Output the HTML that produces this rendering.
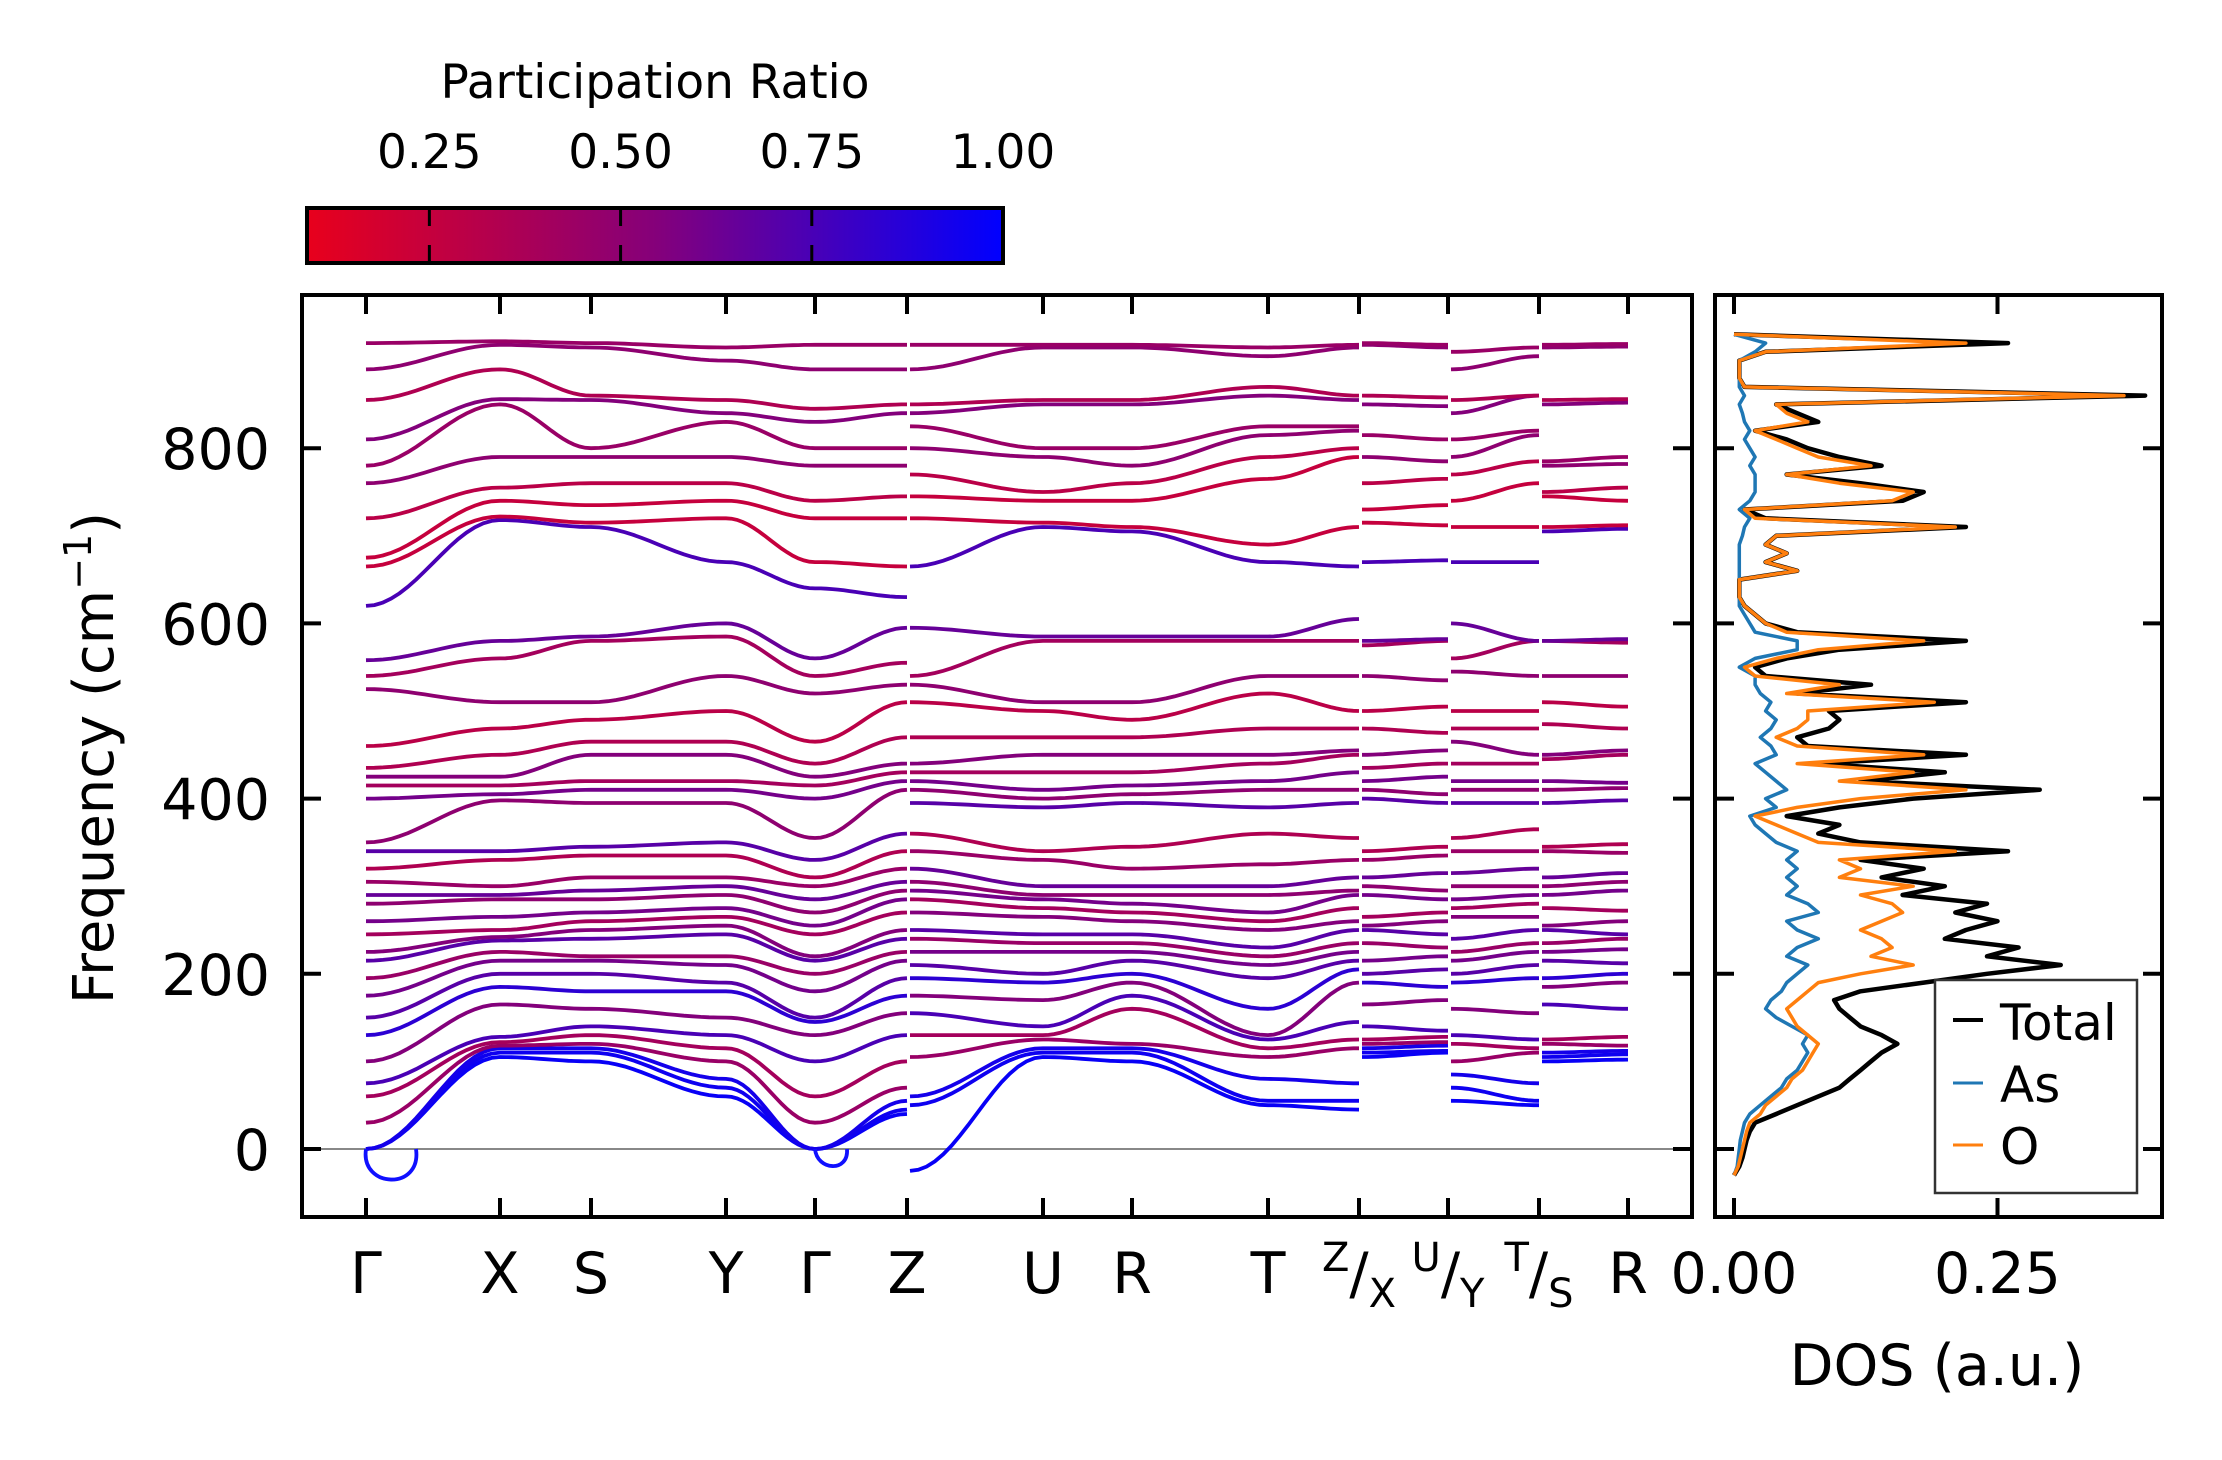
<!DOCTYPE html>
<html><head><meta charset="utf-8"><style>
body{margin:0;background:#fff}
svg text{font-family:"DejaVu Sans","Liberation Sans",sans-serif;fill:#000}
</style></head><body>
<svg id="fig" width="2222" height="1455" viewBox="0 0 2222 1455" xmlns="http://www.w3.org/2000/svg">
<defs>
<linearGradient id="cmap" x1="0" x2="1" y1="0" y2="0">
<stop offset="0" stop-color="#e8001c"/><stop offset="0.5" stop-color="#85007a"/><stop offset="1" stop-color="#0000ff"/>
</linearGradient>
<clipPath id="clipMain"><rect x="302" y="295" width="1390" height="922"/></clipPath>
<clipPath id="clipDos"><rect x="1715" y="295" width="447" height="922"/></clipPath>
</defs>
<rect width="2222" height="1455" fill="#fff"/>
<g id="colorbar">
<text x="655" y="98" font-size="47" text-anchor="middle">Participation Ratio</text>
<rect x="307" y="208" width="696" height="55" fill="url(#cmap)" stroke="#000" stroke-width="4"/>
</g>
<g id="main">
<line x1="302" x2="1692" y1="1149" y2="1149" stroke="#888" stroke-width="2"/>
<g id="bands" clip-path="url(#clipMain)"></g>
<rect x="302" y="295" width="1390" height="922" fill="none" stroke="#000" stroke-width="4"/>
<g id="mainTicks"></g>
<text transform="translate(113,758) rotate(-90)" font-size="56" text-anchor="middle">Frequency (cm<tspan dy="-22" font-size="38">−1</tspan><tspan dy="22">)</tspan></text>
</g>
<g id="dos">
<g id="dosLines" clip-path="url(#clipDos)"></g>
<rect x="1715" y="295" width="447" height="922" fill="none" stroke="#000" stroke-width="4"/>
<g id="dosTicks"></g>
<text x="1937" y="1385" font-size="57" text-anchor="middle">DOS (a.u.)</text>
<g>
<rect x="1935" y="980" width="202" height="213" fill="#fff" stroke="#333" stroke-width="2.5"/>
<line x1="1953" x2="1983" y1="1020" y2="1020" stroke="#000" stroke-width="4"/>
<text x="2000" y="1040" font-size="50">Total</text>
<line x1="1953" x2="1983" y1="1083" y2="1083" stroke="#1f77b4" stroke-width="3"/>
<text x="2000" y="1102" font-size="50">As</text>
<line x1="1953" x2="1983" y1="1145" y2="1145" stroke="#ff7f0e" stroke-width="3"/>
<text x="2000" y="1164" font-size="50">O</text>
</g>
</g>
</svg>
<script>
// ---- data ----
const kLabels = ["Γ","X","S","Y","Γ","Z","U","R","T","Z|X","U|Y","T|S","R"];
const yTicks = [0,200,400,600,800];
const cbTicks = [0.25,0.50,0.75,1.00];
const cbTickLabels = ["0.25","0.50","0.75","1.00"];
const dosTicks = [0,0.25];
const dosTickLabels = ["0.00","0.25"];
const seg1 = [
 [0,0,0,30,60,75,100,130,150,175,195,215,225,245,260,280,290,305,320,340,350,400,415,425,435,460,525,540,558,620,665,675,720,760,780,810,855,890,920],
 [105,110,115,118,122,128,165,185,200,215,225,238,242,250,265,285,290,300,330,340,398,405,415,425,450,480,510,560,580,718,722,740,755,790,850,856,890,918,922],
 [100,110,115,120,130,140,160,180,200,215,220,240,250,260,270,285,295,310,335,345,395,410,420,450,465,490,510,580,585,710,715,735,760,790,800,855,860,915,920],
 [60,70,80,100,115,130,150,180,190,210,220,245,255,265,275,290,300,310,335,350,395,410,420,450,465,500,540,585,600,670,720,740,760,790,830,840,855,900,915],
 [0,0,0,30,60,100,130,145,150,180,200,215,220,245,255,270,285,300,310,330,355,400,415,425,440,465,520,540,560,640,670,720,740,780,800,830,845,890,918],
 [40,45,55,70,100,130,155,175,195,215,225,240,250,270,285,295,305,320,340,360,410,420,430,440,470,510,530,555,595,630,665,720,745,780,800,840,850,890,918]];
const seg2 = [
 [-25,50,60,105,130,155,175,195,210,225,240,250,270,285,295,305,320,340,360,395,410,420,430,440,470,510,530,540,595,665,720,745,770,800,825,840,850,890,918],
 [105,110,115,125,130,140,170,190,200,225,235,245,265,275,285,290,300,330,340,390,400,410,430,450,470,500,510,580,585,710,715,740,750,790,800,850,855,915,918],
 [100,110,115,120,160,175,190,200,215,225,235,245,260,270,280,290,300,320,345,395,405,415,430,450,470,490,510,580,585,705,710,740,760,780,800,850,855,915,918],
 [50,55,80,105,115,125,130,160,195,210,220,230,250,260,270,290,300,325,360,390,410,420,440,450,480,520,540,580,585,670,690,765,790,815,825,860,870,905,915],
 [45,55,75,115,125,145,190,205,215,225,235,250,260,275,290,295,310,330,355,395,410,430,450,455,480,500,540,580,605,665,710,790,800,820,825,855,860,915,918]];
const seg3 = [
 [105,110,115,120,125,140,165,190,200,215,235,250,255,265,290,300,310,330,340,400,410,420,435,450,480,500,540,575,580,670,715,730,760,790,815,850,860,918,920],
 [110,112,118,122,128,135,170,185,205,220,230,245,260,270,285,295,315,335,345,395,405,425,440,455,475,505,535,580,582,672,712,735,765,785,810,848,858,915,918]];
const seg4 = [
 [55,70,85,100,120,130,160,190,200,215,225,240,265,275,285,300,315,340,355,395,410,420,440,465,480,500,545,560,600,670,710,740,770,790,810,840,855,890,910],
 [50,55,75,110,115,125,155,195,210,225,235,250,265,280,290,300,320,340,365,395,410,420,440,450,480,500,540,580,580,670,710,760,785,815,820,860,860,905,915]];
const seg5 = [
 [100,105,110,120,125,165,185,195,215,225,235,250,255,275,290,300,310,340,345,395,410,420,445,450,485,510,540,580,580,705,710,745,750,780,785,850,855,915,918],
 [102,108,112,118,128,160,190,200,212,228,240,245,260,272,295,305,315,338,348,398,412,418,450,455,480,505,540,578,582,708,712,740,755,782,790,852,856,916,919]];
const segStart = [0,5,9,10,11];
const prValues = [0.97,0.95,0.93,0.45,0.4,0.75,0.55,0.85,0.7,0.6,0.45,0.7,0.55,0.4,0.6,0.5,0.65,0.45,0.35,0.7,0.5,0.6,0.4,0.55,0.35,0.3,0.5,0.4,0.65,0.75,0.25,0.25,0.3,0.5,0.45,0.55,0.35,0.5,0.45];
const dosFreqStart = -30, dosFreqStep = 10;
const dosTotal = [0,.005,.008,.01,.012,.015,.02,.04,.06,.08,.1,.11,.12,.13,.14,.155,.14,.12,.11,.1,.095,.12,.18,.24,.31,.24,.27,.2,.22,.25,.21,.24,.16,.2,.14,.18,.12,.26,.12,.08,.1,.05,.1,.17,.29,.12,.2,.08,.22,.07,.06,.09,.1,.09,.22,.06,.13,.03,.02,.05,.1,.22,.06,.03,.02,.01,.005,.005,.005,.06,.03,.05,.03,.04,.22,.03,.01,.16,.18,.12,.05,.14,.1,.07,.05,.02,.08,.06,.04,.39,.01,.005,.005,.005,.03,.26,0];
const dosO = [0,.004,.006,.008,.01,.012,.015,.025,.03,.04,.05,.055,.065,.07,.075,.08,.07,.06,.055,.05,.06,.07,.08,.12,.17,.13,.15,.14,.12,.14,.16,.15,.12,.17,.1,.12,.1,.21,.08,.06,.04,.02,.06,.12,.22,.1,.17,.06,.18,.06,.04,.06,.07,.07,.19,.05,.1,.02,.01,.04,.08,.18,.05,.03,.02,.01,.005,.005,.005,.06,.03,.05,.03,.04,.21,.02,.01,.15,.17,.1,.05,.13,.08,.06,.04,.02,.07,.05,.04,.37,.01,.005,.005,.005,.03,.22,0];
const dosAs = [0,.003,.004,.005,.006,.008,.01,.015,.025,.035,.045,.05,.06,.065,.07,.065,.07,.055,.04,.03,.035,.045,.05,.06,.07,.05,.06,.08,.06,.05,.08,.07,.05,.06,.05,.06,.05,.06,.04,.03,.02,.015,.04,.03,.05,.04,.03,.02,.04,.035,.025,.035,.04,.03,.035,.025,.02,.02,.005,.02,.06,.06,.02,.015,.01,.005,.005,.005,.005,.005,.005,.005,.005,.008,.01,.015,.005,.015,.02,.02,.02,.015,.02,.015,.01,.015,.01,.008,.005,.01,.005,.005,.005,.005,.02,.03,0];

const NS="http://www.w3.org/2000/svg";
const kPos = [366,500,591,726,815,907,1043,1132,1268,1359,1448,1539,1628];
const kX = i => kPos[i];
const fy = f => 1149 - f*0.876;
const dx = v => 1734 + v*1054;
const cbx = v => 307 + (v-0.09)/(1-0.09)*696;
function prColor(p){
  const t=Math.max(0,Math.min(1,(p-0.09)/0.91));
  let r,g,b;
  if(t<0.5){const s=t/0.5;r=232+(133-232)*s;g=0;b=28+(122-28)*s;}
  else{const s=(t-0.5)/0.5;r=133*(1-s);g=0;b=122+(255-122)*s;}
  return `rgb(${r|0},${g|0},${b|0})`;
}
function mk(tag,attrs,parent){const e=document.createElementNS(NS,tag);for(const k in attrs)e.setAttribute(k,attrs[k]);parent.appendChild(e);return e;}

const bandsG=document.getElementById('bands');
[seg1,seg2,seg3,seg4,seg5].forEach((seg,si)=>{
  const nb=seg[0].length;
  for(let b=0;b<nb;b++){
    let d="";
    for(let n=0;n<seg.length-1;n++){
      const x0=kX(segStart[si]+n)+(n===0&&si>0?3:0), x1=kX(segStart[si]+n+1);
      const v0=seg[n][b], v1=seg[n+1][b];
      for(let s=0;s<=16;s++){
        const t=s/16, w=(1-Math.cos(Math.PI*t))/2;
        const x=x0+(x1-x0)*t, y=fy(v0+(v1-v0)*w);
        d+=(d===""?"M":"L")+x.toFixed(1)+","+y.toFixed(1);
      }
    }
    const p=mk('path',{d:d,fill:'none',stroke:prColor(prValues[b]),'stroke-width':3.8},bandsG);
    
    
  }
});
const loop1=mk('path',{d:`M${kX(0)},${fy(0)} C${kX(0)-6},${fy(-45)} ${kX(0)+56},${fy(-48)} ${kX(0)+50},${fy(0)}`,fill:'none',stroke:'#1010ff','stroke-width':3.8},bandsG);


const loop2=mk('path',{d:`M${kX(4)},${fy(0)} C${kX(4)+2},${fy(-25)} ${kX(4)+34},${fy(-27)} ${kX(4)+32},${fy(0)}`,fill:'none',stroke:'#1010ff','stroke-width':3.8},bandsG);



const mt=document.getElementById('mainTicks');
kLabels.forEach((lab,i)=>{
  const x=kX(i);
  mk('line',{x1:x,x2:x,y1:295,y2:314,stroke:'#000','stroke-width':4},mt);
  mk('line',{x1:x,x2:x,y1:1217,y2:1198,stroke:'#000','stroke-width':4},mt);
  let t;
  if(lab.includes('|')){
    const [a,b]=lab.split('|');
    t=mk('text',{x:x,y:1293,'font-size':57,'text-anchor':'middle'},mt);
    t.innerHTML=`<tspan font-size="40" dy="-22">${a}</tspan><tspan dy="22">/</tspan><tspan font-size="40" dy="14">${b}</tspan>`;
  } else {
    t=mk('text',{x:x,y:1293,'font-size':57,'text-anchor':'middle'},mt);
    t.textContent=lab;
  }
  
  
});
yTicks.forEach(v=>{
  const y=fy(v);
  mk('line',{x1:302,x2:321,y1:y,y2:y,stroke:'#000','stroke-width':4},mt);
  mk('line',{x1:1692,x2:1673,y1:y,y2:y,stroke:'#000','stroke-width':4},mt);
  const t=mk('text',{x:270,y:y+21,'font-size':57,'text-anchor':'end'},mt);
  t.textContent=String(v);
  
  
});

const cb=document.getElementById('colorbar');
cbTicks.forEach((v,i)=>{
  const x=cbx(v);
  if(v<1){
    mk('line',{x1:x,x2:x,y1:208,y2:226,stroke:'#000','stroke-width':3},cb);
    mk('line',{x1:x,x2:x,y1:245,y2:263,stroke:'#000','stroke-width':3},cb);
  }
  const t=mk('text',{x:x,y:168,'font-size':47,'text-anchor':'middle'},cb);
  t.textContent=cbTickLabels[i];
  
  
});

const dg=document.getElementById('dosLines');
function dosPath(arr,color,w,name){
  let d="";
  arr.forEach((v,i)=>{const f=dosFreqStart+i*dosFreqStep;d+=(i?"L":"M")+dx(v).toFixed(1)+","+fy(f).toFixed(1);});
  const p=mk('path',{d:d,fill:'none',stroke:color,'stroke-width':w,'stroke-linejoin':'round'},dg);
  
  
}
dosPath(dosTotal,'#000',4.5,'dos-total-line');
dosPath(dosAs,'#1f77b4',3.5,'dos-as-line');
dosPath(dosO,'#ff7f0e',3.5,'dos-o-line');
const dt=document.getElementById('dosTicks');
dosTicks.forEach((v,i)=>{
  const x=dx(v);
  mk('line',{x1:x,x2:x,y1:295,y2:314,stroke:'#000','stroke-width':4},dt);
  mk('line',{x1:x,x2:x,y1:1217,y2:1198,stroke:'#000','stroke-width':4},dt);
  const t=mk('text',{x:x,y:1293,'font-size':57,'text-anchor':'middle'},dt);
  t.textContent=dosTickLabels[i];
  
  
});
yTicks.forEach(v=>{
  const y=fy(v);
  mk('line',{x1:1715,x2:1734,y1:y,y2:y,stroke:'#000','stroke-width':4},dt);
  mk('line',{x1:2162,x2:2143,y1:y,y2:y,stroke:'#000','stroke-width':4},dt);
});
</script>
</body></html>
